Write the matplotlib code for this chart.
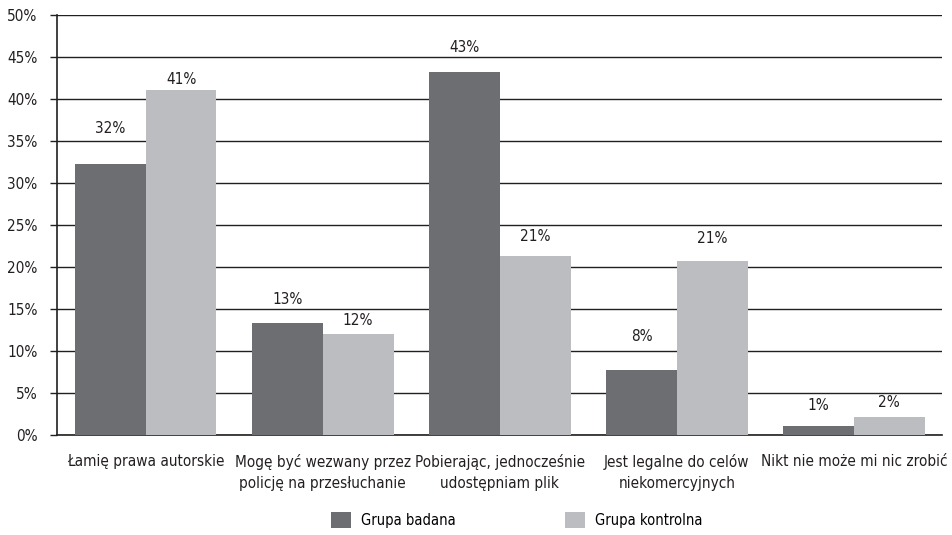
import matplotlib.pyplot as plt
import numpy as np

plt.rcParams['font.family'] = ['DejaVu Sans']
plt.rcParams['font.stretch'] = 'condensed'

categories = [
    "Łamię prawa autorskie",
    "Mogę być wezwany przez\npolicję na przesłuchanie",
    "Pobierając, jednocześnie\nudostępniam plik",
    "Jest legalne do celów\nniekomercyjnych",
    "Nikt nie może mi nic zrobić",
]
grupa_badana = [32.2, 13.3, 43.2, 7.7, 1.1]
grupa_kontrolna = [41.1, 12.0, 21.3, 20.7, 2.1]
yticks = [0, 5, 10, 15, 20, 25, 30, 35, 40, 45, 50]

# vertical gap (pixels) between bar top and its value label, as placed in the original
gap_badana = [28, 16, 17, 26, 13]
gap_kontrolna = [3, 6, 12, 15, 7]

dark = "#6d6e71"
light = "#bcbdc0"
line = "#231f20"

fig = plt.figure(figsize=(9.52, 5.35), dpi=100)
ax = fig.add_axes([0.06, 0.187, 0.93, 0.785])

x = np.arange(len(categories))
w = 0.4
b1 = ax.bar(x - w / 2, grupa_badana, w, color=dark, label="Grupa badana", zorder=3)
b2 = ax.bar(x + w / 2, grupa_kontrolna, w, color=light, label="Grupa kontrolna", zorder=3)

for bars, vals, gaps in ((b1, grupa_badana, gap_badana), (b2, grupa_kontrolna, gap_kontrolna)):
    for r, v, g in zip(bars, vals, gaps):
        ax.annotate(f"{round(v)}%", (r.get_x() + r.get_width() / 2, v),
                    xytext=(0, g), textcoords="offset pixels",
                    ha="center", va="bottom", fontsize=11, color=line)

ax.set_xlim(-0.5, len(categories) - 0.5)
ax.set_ylim(0, 50)
ax.set_yticks(yticks)
ax.set_yticklabels([f"{t}%" for t in yticks], fontsize=11, color=line)
ax.set_xticks(x)
ax.set_xticklabels(categories, fontsize=11, color=line, linespacing=1.45)
ax.tick_params(axis="x", length=0, pad=14)
ax.tick_params(axis="y", length=5, width=1, color=line, pad=9)
ax.yaxis.grid(True, color=line, linewidth=1, zorder=0)
ax.set_axisbelow(True)
for s in ("top", "right"):
    ax.spines[s].set_visible(False)
for s in ("left", "bottom"):
    ax.spines[s].set_color(line)
    ax.spines[s].set_linewidth(1.2)

fig.legend(handles=[b1, b2], loc="center", bbox_to_anchor=(0.543, 0.028), ncol=2,
           frameon=False, fontsize=10.5, handlelength=1.35, handleheight=1.35,
           columnspacing=7.5, handletextpad=0.7)

fig.savefig("out.png", dpi=100)
